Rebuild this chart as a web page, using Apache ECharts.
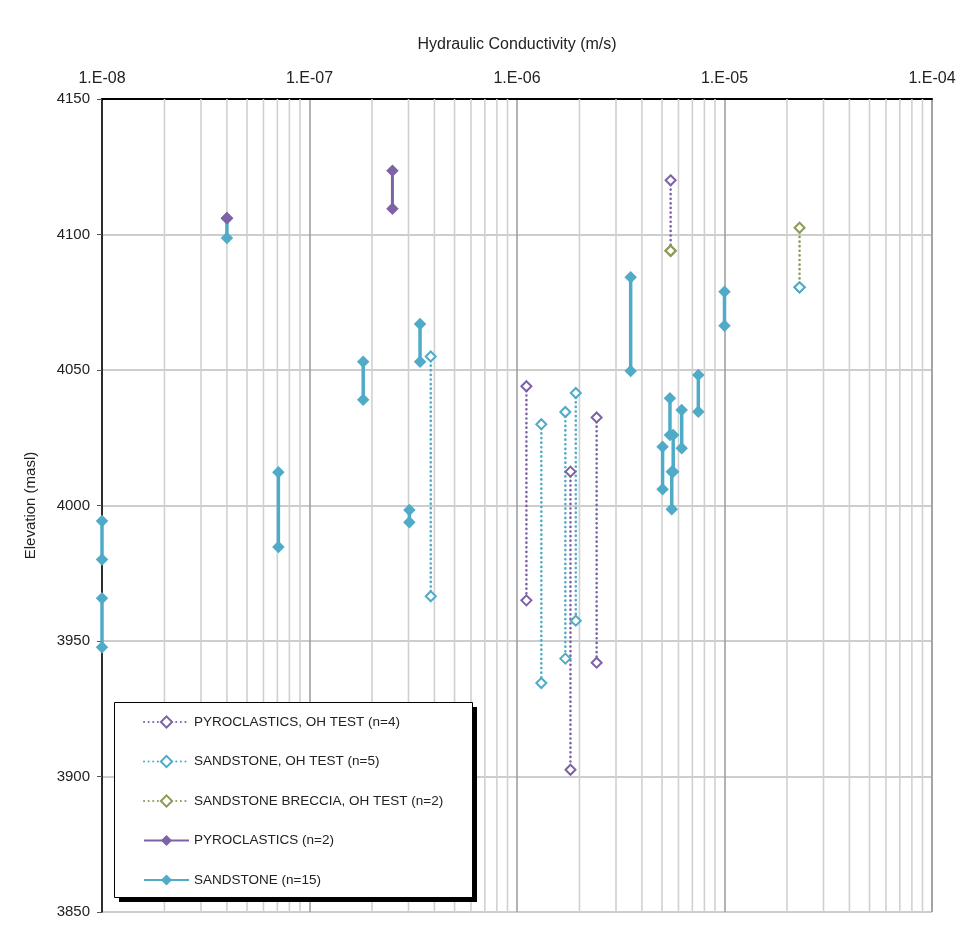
<!DOCTYPE html>
<html>
<head>
<meta charset="utf-8">
<script src="https://cdn.jsdelivr.net/npm/echarts@6/dist/echarts.min.js"></script>
<style>
  html, body { margin: 0; padding: 0; background: #fff; }
  #chart { width: 966px; height: 932px; }
</style>
</head>
<body>
<div id="chart"></div>
<script>
// ---- Data: each test = [hydraulic conductivity (m/s), top elevation, bottom elevation] ----
const seriesNames = [
  'PYROCLASTICS, OH TEST (n=4)',
  'SANDSTONE, OH TEST (n=5)',
  'SANDSTONE BRECCIA, OH TEST (n=2)',
  'PYROCLASTICS (n=2)',
  'SANDSTONE (n=15)'
];
const pyroOhTests = [
  [1.11e-6, 4044, 3965],
  [1.81e-6, 4012.5, 3902.5],
  [2.42e-6, 4032.5, 3942],
  [5.5e-6, 4120, 4094]
];
const sandOhTests = [
  [3.84e-7, 4055, 3966.5],
  [1.31e-6, 4030, 3934.5],
  [1.71e-6, 4034.5, 3943.5],
  [1.92e-6, 4041.5, 3957.5],
  [2.3e-5, 4080.5, 4080.5]
];
const brecciaOhTests = [
  [5.5e-6, 4094, 4094],
  [2.3e-5, 4102.5, 4080.5]
];
const pyroTests = [
  [4.0e-8, 4106, 4106],
  [2.51e-7, 4123.5, 4109.5]
];
const sandTests = [
  [4.0e-8, 4106, 4098.7],
  [1.0e-8, 3994.3, 3980.1],
  [1.0e-8, 3965.8, 3947.7],
  [7.08e-8, 4012.3, 3984.7],
  [1.815e-7, 4053, 4039],
  [3.03e-7, 3998.3, 3993.8],
  [3.41e-7, 4067, 4053],
  [3.53e-6, 4084.2, 4049.6],
  [5.03e-6, 4021.7, 4006],
  [5.46e-6, 4039.6, 4026],
  [5.57e-6, 4012.5, 3998.6],
  [5.66e-6, 4026, 4012.5],
  [6.22e-6, 4035.2, 4021.1],
  [7.48e-6, 4048.2, 4034.6],
  [1.0e-5, 4078.9, 4066.3]
];
const xMin = 1e-8, xMax = 1e-4;
const yMin = 3850, yMax = 4150, yStep = 50;
// minor log gridlines 2..9 x 10^n
const minorGridValues = [];
for (let e = -8; e < -4; e++) {
  for (let m = 2; m <= 9; m++) minorGridValues.push(m * Math.pow(10, e));
}

// ---- Styles ----
const FONT = "'Liberation Sans', Arial, sans-serif";
const C_SAND = '#4fabc7';
const C_PYRO = '#7d63a6';
const C_BREC = '#8a9c58';

function ohStyle(color) {
  return {
    type: 'line',
    symbol: 'emptyDiamond',
    symbolSize: 10,
    showSymbol: true,
    itemStyle: { color: color, borderColor: color, borderWidth: 1.5 },
    lineStyle: { color: color, width: 2.6, type: [0.1, 4.5], cap: 'round' },
    z: 3
  };
}
function solidStyle(color, w, size) {
  return {
    type: 'line',
    symbol: 'diamond',
    symbolSize: size,
    showSymbol: true,
    itemStyle: { color: color },
    lineStyle: { color: color, width: w, type: 'solid' },
    z: 4
  };
}
function makeSeries(name, tests, style) {
  return tests.map(t => Object.assign({
    name: name,
    data: [[t[0], t[1]], [t[0], t[2]]],
    animation: false,
    silent: true
  }, style));
}

const series = [];
// minor log gridlines, drawn through the log x scale
minorGridValues.forEach(v => {
  series.push({
    name: 'minor-grid',
    type: 'line',
    data: [[v, yMin], [v, yMax]],
    symbol: 'none',
    showSymbol: false,
    lineStyle: { color: '#d0d0d0', width: 1.6 },
    silent: true,
    animation: false,
    z: 1
  });
});
// draw order: pyro OH, breccia OH, sandstone OH, sandstone, pyroclastics
series.push(...makeSeries(seriesNames[0], pyroOhTests, ohStyle(C_PYRO)));
series.push(...makeSeries(seriesNames[2], brecciaOhTests, ohStyle(C_BREC)));
series.push(...makeSeries(seriesNames[1], sandOhTests, ohStyle(C_SAND)));
series.push(...makeSeries(seriesNames[4], sandTests, solidStyle(C_SAND, 3.5, 12.5)));
series.push(...makeSeries(seriesNames[3], pyroTests, solidStyle(C_PYRO, 3, 12.5)));

const chart = echarts.init(document.getElementById('chart'), null, { renderer: 'canvas' });
chart.setOption({
  animation: false,
  backgroundColor: '#ffffff',
  textStyle: { fontFamily: FONT },
  grid: { left: 102, right: 34, top: 99, bottom: 20, containLabel: false },
  xAxis: {
    type: 'log',
    logBase: 10,
    position: 'top',
    min: xMin,
    max: xMax,
    name: 'Hydraulic Conductivity (m/s)',
    nameLocation: 'middle',
    nameGap: 46,
    nameTextStyle: { fontSize: 16, color: '#222', fontFamily: FONT },
    axisLine: { show: true, lineStyle: { color: '#000', width: 2 } },
    axisTick: { show: false },
    axisLabel: {
      fontSize: 16, color: '#222', margin: 12, fontFamily: FONT,
      formatter: function (v) {
        const e = Math.round(Math.log10(v));
        return '1.E' + (e < 0 ? '-' : '+') + String(Math.abs(e)).padStart(2, '0');
      }
    },
    splitLine: { show: true, lineStyle: { color: '#a0a0a0', width: 1.6 } }
  },
  yAxis: {
    type: 'value',
    min: yMin,
    max: yMax,
    interval: yStep,
    name: 'Elevation (masl)',
    nameLocation: 'middle',
    nameGap: 64,
    nameTextStyle: { fontSize: 15, color: '#222', fontFamily: FONT },
    axisLine: { show: true, lineStyle: { color: '#000', width: 1.5 } },
    axisTick: { show: true, length: 5, lineStyle: { color: '#555', width: 1 } },
    axisLabel: {
      fontSize: 15, color: '#222', margin: 12, fontFamily: FONT,
      formatter: function (v) { return String(v); }
    },
    splitLine: { show: true, lineStyle: { color: '#bcbcbc', width: 1.6 } }
  },
  graphic: [
    { type: 'rect', z: 50, silent: true, shape: { x: 119, y: 707, width: 358, height: 195 }, style: { fill: '#000' } },
    { type: 'rect', z: 51, silent: true, shape: { x: 114.5, y: 702.5, width: 358, height: 195 }, style: { fill: '#fff', stroke: '#000', lineWidth: 1 } }
  ],
  legend: {
    show: true,
    z: 60,
    orient: 'vertical',
    left: 114,
    top: 702,
    data: seriesNames,
    itemWidth: 45,
    itemHeight: 14,
    itemGap: 25.5,
    padding: [13, 26, 11, 29],
    selectedMode: false,
    textStyle: { fontSize: 13.5, color: '#222', fontFamily: FONT }
  },
  series: series
});
</script>
</body>
</html>
